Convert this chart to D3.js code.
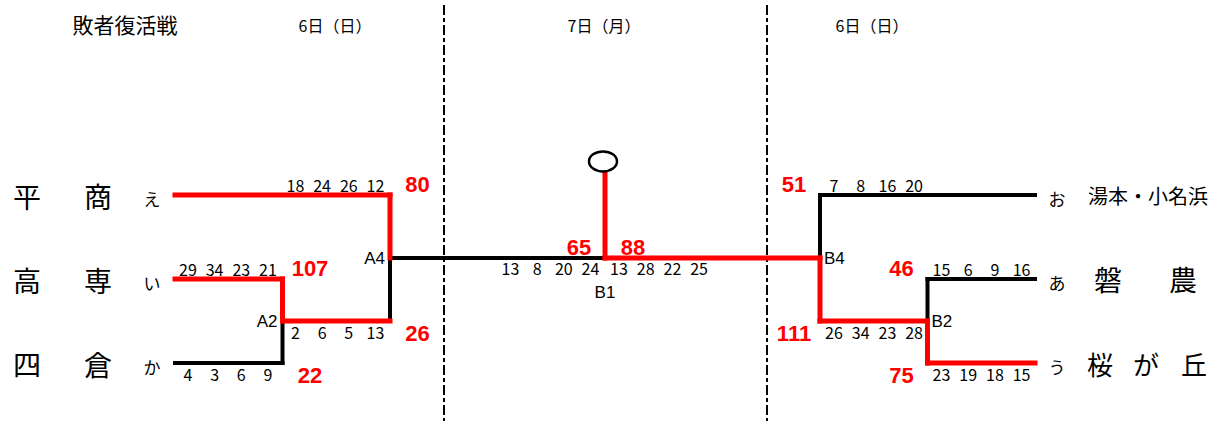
<!DOCTYPE html>
<meta charset="utf-8">
<html>
<head>
<script src="https://d3js.org/d3.v7.min.js" charset="utf-8"></script>
<style>
  body { margin: 0; background: #fff; }
  svg text { font-family: "Noto Sans CJK JP", sans-serif; fill: #000; }
  .total { font-family: "Liberation Sans", Arial, sans-serif; font-weight: bold; fill: #ff0000; }
</style>
</head>
<body>
<div id="chart-container"></div>
<script>
// ---- data ----
const title = '敗者復活戦';
const dayLabels = ['6日（日）', '7日（月）', '6日（日）'];
const leftTeams = ['平商', '高専', '四倉'];
const leftKana = ['え', 'い', 'か'];
const rightTeams = ['湯本・小名浜', '磐農', '桜が丘'];
const rightKana = ['お', 'あ', 'う'];

// quarter scores: [first team, second team]
const gameNames = ['A2', 'A4', 'B2', 'B4', 'B1'];
const quarters = {
  A2: [[29, 34, 23, 21], [4, 3, 6, 9]],     // 高専 - 四倉
  A4: [[18, 24, 26, 12], [2, 6, 5, 13]],    // 平商 - 高専
  B2: [[15, 6, 9, 16], [23, 19, 18, 15]],   // 磐農 - 桜が丘
  B4: [[7, 8, 16, 20], [26, 34, 23, 28]],   // 湯本・小名浜 - 桜が丘
  B1: [[13, 8, 20, 24], [13, 28, 22, 25]]   // 平商 - 桜が丘
};
const totals = {
  A2: [107, 22],
  A4: [80, 26],
  B2: [46, 75],
  B4: [51, 111],
  B1: [65, 88]
};

// bracket: [fromRound, fromSlot, toRound, toSlot, horizontal won, vertical won]
const leftEdges = [
  [0, 0, 2, 0.75, 1, 1],
  [0, 1, 1, 1.5, 1, 1],
  [0, 2, 1, 1.5, 0, 0],
  [1, 1.5, 2, 0.75, 1, 0],
  [2, 0.75, 4, 0.75, 0, 0]
];
const rightEdges = [
  [0, 0, 2, 0.75, 0, 0],
  [0, 1, 1, 1.5, 0, 0],
  [0, 2, 1, 1.5, 1, 1],
  [1, 1.5, 2, 0.75, 1, 1],
  [2, 0.75, 4, 0.75, 1, 1]
];

// ---- chart ----
const svgWidth = 1213;
const svgHeight = 423;

const svg = d3.select('#chart-container')
  .append('svg')
  .attr('width', svgWidth)
  .attr('height', svgHeight);

// rounds: 0 entry, 1 first game, 2 second game, 4 final
const xL = d3.scaleLinear().domain([0, 4]).range([175, 605]);
const xR = d3.scaleLinear().domain([0, 4]).range([1035, 605]);
const y = d3.scaleLinear().domain([0, 2]).range([195, 363]);

const red = '#ff0000';

// header
svg.append('text')
  .attr('x', 125).attr('y', 24)
  .attr('text-anchor', 'middle').attr('dominant-baseline', 'central')
  .style('font-size', '21px')
  .text(title);

const dayX = [335, 604, 872];
svg.selectAll('.day')
  .data(dayLabels)
  .enter().append('text')
  .attr('class', 'day')
  .attr('x', (d, i) => dayX[i]).attr('y', 25)
  .attr('text-anchor', 'middle').attr('dominant-baseline', 'central')
  .style('font-size', '16px')
  .text(d => d);

// dashed day dividers
[444, 767].forEach(function (dx) {
  svg.append('line')
    .attr('x1', dx).attr('x2', dx)
    .attr('y1', 5).attr('y2', 421)
    .attr('stroke', '#000')
    .attr('stroke-width', 2)
    .attr('stroke-dasharray', '10,3,4,3');
});

// bracket lines, black first then red on top
function segments(edges, x) {
  const segs = [];
  edges.forEach(function (e) {
    segs.push({x1: x(e[0]), y1: y(e[1]), x2: x(e[2]), y2: y(e[1]), won: e[4]});
    if (e[1] !== e[3]) {
      segs.push({x1: x(e[2]), y1: y(e[1]), x2: x(e[2]), y2: y(e[3]), won: e[5]});
    }
  });
  return segs;
}
let allSegs = segments(leftEdges, xL).concat(segments(rightEdges, xR));
// champion line up to the circle
allSegs.push({x1: xL(4), y1: y(0.75), x2: xL(4), y2: y(-0.26), won: 1});
allSegs.sort((a, b) => a.won - b.won);

svg.selectAll('.seg')
  .data(allSegs)
  .enter().append('line')
  .attr('class', 'seg')
  .attr('x1', d => d.x1).attr('y1', d => d.y1)
  .attr('x2', d => d.x2).attr('y2', d => d.y2)
  .attr('stroke', d => d.won ? red : '#000')
  .attr('stroke-width', d => d.won ? 5 : 4)
  .attr('stroke-linecap', 'square');

svg.append('ellipse')
  .attr('cx', xL(4) - 2).attr('cy', y(-0.4))
  .attr('rx', 14).attr('ry', 10)
  .attr('fill', 'none')
  .attr('stroke', '#000')
  .attr('stroke-width', 2.5);

// team names
leftTeams.forEach(function (t, i) {
  const chars = Array.from(t);
  svg.append('text').attr('x', 27).attr('y', y(i) + 1)
    .attr('text-anchor', 'middle').attr('dominant-baseline', 'central')
    .style('font-size', '28px').text(chars[0]);
  svg.append('text').attr('x', 98).attr('y', y(i) + 1)
    .attr('text-anchor', 'middle').attr('dominant-baseline', 'central')
    .style('font-size', '28px').text(chars[1]);
  svg.append('text').attr('x', 152).attr('y', y(i) + 3)
    .attr('text-anchor', 'middle').attr('dominant-baseline', 'central')
    .style('font-size', '17px').text(leftKana[i]);
});

rightTeams.forEach(function (t, i) {
  const chars = Array.from(t);
  const ty = y(i);
  svg.append('text').attr('x', 1057).attr('y', ty + 3)
    .attr('text-anchor', 'middle').attr('dominant-baseline', 'central')
    .style('font-size', '17px').text(rightKana[i]);
  if (chars.length > 3) {
    svg.append('text').attr('x', 1088).attr('y', ty)
      .attr('dominant-baseline', 'central')
      .style('font-size', '20px').text(t);
  } else {
    const cx = chars.length === 2 ? [1108, 1183] : [1100, 1146, 1194];
    const fs = chars.length === 2 ? 28 : 26;
    chars.forEach(function (c, j) {
      svg.append('text').attr('x', cx[j]).attr('y', ty)
        .attr('text-anchor', 'middle').attr('dominant-baseline', 'central')
        .style('font-size', fs + 'px').text(c);
    });
  }
});

// score layout: game -> node x, team line slots, above/below, side
const layout = {
  A2: {x: xL(1), slots: [1, 2], pos: ['above', 'below'], dir: 'L'},
  A4: {x: xL(2), slots: [0, 1.5], pos: ['above', 'below'], dir: 'L'},
  B2: {x: xR(1), slots: [1, 2], pos: ['above', 'below'], dir: 'R'},
  B4: {x: xR(2), slots: [0, 1.5], pos: ['above', 'below'], dir: 'R'},
  B1: {x: xL(4), slots: [0.75, 0.75], pos: ['final', 'final'], dir: 'F'}
};
const step = 26.7;

gameNames.forEach(function (g) {
  const L = layout[g];
  [0, 1].forEach(function (k) {
    const ly = y(L.slots[k]);
    const q = quarters[g][k];
    let qx, qy, tx, ty;
    // direction the quarter row grows from the node
    let toLeft = L.dir === 'L' || (L.dir === 'F' && k === 0);
    if (L.pos[k] === 'above') { qy = ly - 3; ty = ly - 3; }
    else if (L.pos[k] === 'below') { qy = ly + 18; ty = ly + 20; }
    else { qy = ly + 17; ty = ly - 3; }
    q.forEach(function (v, i) {
      qx = toLeft ? L.x - 14.5 - (3 - i) * step : L.x + 14 + i * step;
      svg.append('text')
        .attr('x', qx).attr('y', qy)
        .attr('text-anchor', 'middle')
        .style('font-size', '16px')
        .text(v);
    });
    if (L.dir === 'L') tx = L.x + 27.5;
    else if (L.dir === 'R') tx = L.x - 26;
    else tx = k === 0 ? L.x - 26 : L.x + 28;
    svg.append('text')
      .attr('class', 'total')
      .attr('x', tx).attr('y', ty)
      .attr('text-anchor', 'middle')
      .style('font-size', '22px')
      .text(totals[g][k]);
  });
  // game label
  const lab = svg.append('text').style('font-size', '17px')
    .style('font-family', '"Liberation Sans", Arial, sans-serif').text(g);
  if (L.dir === 'L') {
    lab.attr('x', L.x - 5).attr('y', y((L.slots[0] + L.slots[1]) / 2) + 6).attr('text-anchor', 'end');
  } else if (L.dir === 'R') {
    lab.attr('x', L.x + 4).attr('y', y((L.slots[0] + L.slots[1]) / 2) + 6);
  } else {
    lab.attr('x', L.x).attr('y', y(L.slots[0]) + 40).attr('text-anchor', 'middle');
  }
});
</script>
</body>
</html>
